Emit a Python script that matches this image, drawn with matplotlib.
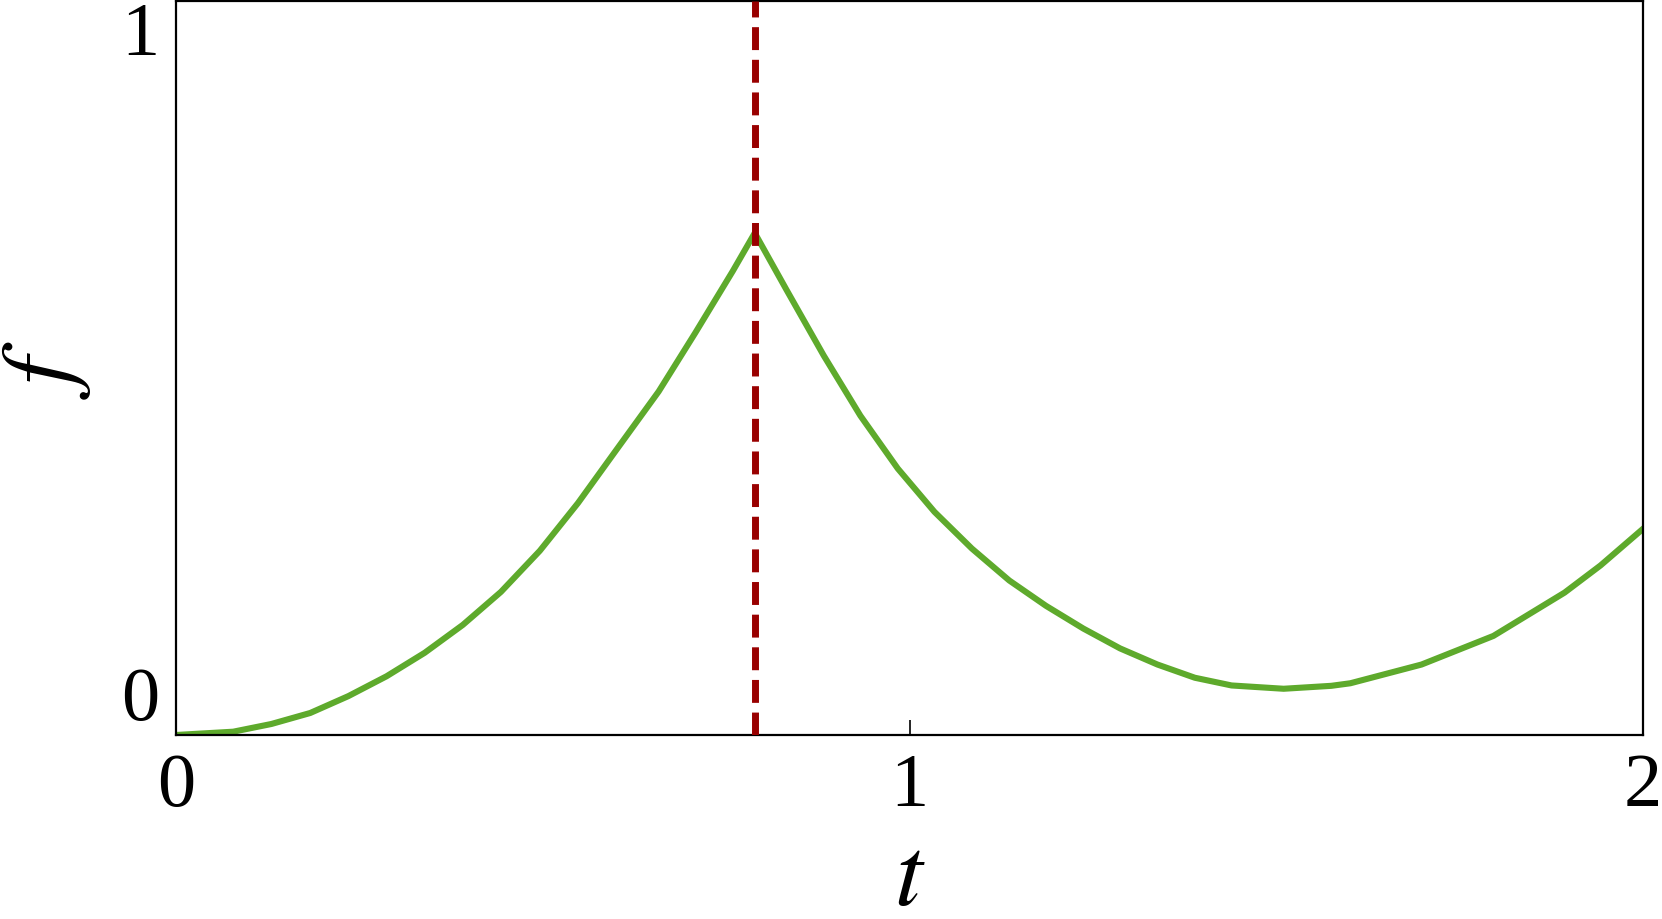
import numpy as np
import matplotlib
matplotlib.use("Agg")
import matplotlib.pyplot as plt

plt.rcParams['mathtext.fontset'] = 'stix'
plt.rcParams['font.family'] = ['Liberation Serif', 'DejaVu Serif']

# values
t_rise = [0.0, 0.078, 0.130, 0.183, 0.235, 0.287, 0.339, 0.391, 0.443, 0.496,
          0.548, 0.600, 0.658, 0.708, 0.759, 0.789]
f_rise = [0.0, 0.0045, 0.015, 0.030, 0.053, 0.080, 0.112, 0.150, 0.195, 0.251,
          0.316, 0.388, 0.468, 0.548, 0.632, 0.684]
t_fall = [0.789, 0.832, 0.883, 0.933, 0.984, 1.034, 1.085, 1.136, 1.186, 1.237,
          1.287, 1.338, 1.389, 1.439, 1.510, 1.575, 1.601, 1.698, 1.796, 1.893,
          1.942, 2.0]
f_fall = [0.684, 0.607, 0.517, 0.435, 0.363, 0.304, 0.254, 0.2105, 0.176, 0.145,
          0.118, 0.096, 0.078, 0.0675, 0.063, 0.067, 0.0705, 0.096, 0.135, 0.194,
          0.231, 0.281]
t_switch = 0.789

x_ticks = [0, 1, 2]
y_ticks = [0, 1]

t = np.array(t_rise + t_fall[1:])
f = np.array(f_rise + f_fall[1:])

fig = plt.figure(figsize=(16.62, 9.2), dpi=100)
ax = fig.add_axes([0.1059, 0.2, 0.8827, 0.7978])

ax.plot(t, f, color='#5EAA2C', lw=4.4, solid_joinstyle='round', zorder=2)
ax.axvline(t_switch, color='#990000', lw=5, dashes=(3.3, 1.4), zorder=3)

ax.set_xlim(0, 2)
ax.set_ylim(0, 1)

for s in ax.spines.values():
    s.set_linewidth(1.6)

ax.set_xticks(x_ticks)
ax.set_xticklabels([str(v) for v in x_ticks])
ax.set_yticks(y_ticks)
ax.set_yticklabels([str(v) for v in y_ticks])
ax.tick_params(axis='x', direction='in', length=11, width=1.2, labelsize=55, pad=12)
ax.tick_params(axis='y', length=0, labelsize=55, pad=12)
ylabs = ax.get_yticklabels()
ylabs[0].set_verticalalignment('bottom')
ylabs[1].set_verticalalignment('top')

ax.set_xlabel('$t$', fontsize=72, labelpad=10)
ax.set_ylabel('$f$', fontsize=72, labelpad=20)

fig.savefig('out.png', dpi=100)
